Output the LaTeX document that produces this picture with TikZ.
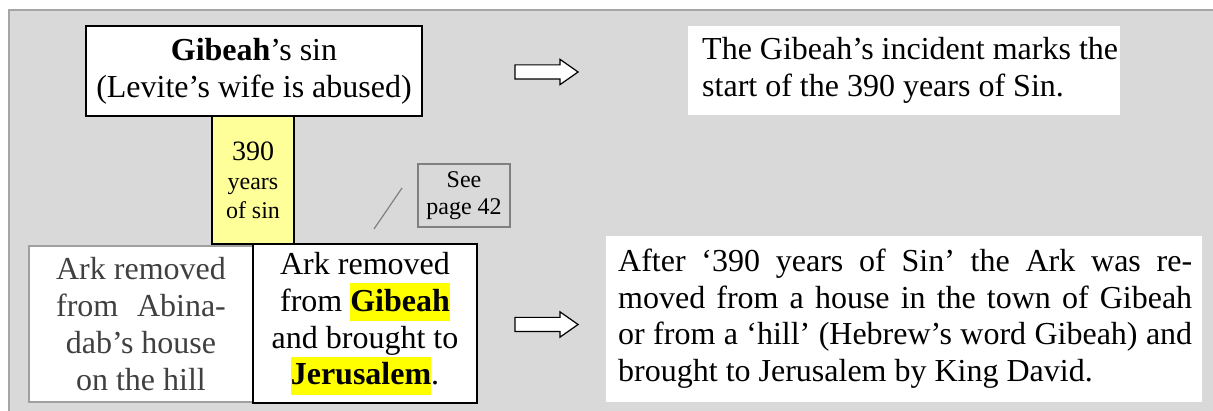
\documentclass[tikz,border=0pt]{standalone}
\usepackage{fontspec}
\setmainfont{Liberation Serif}
\usetikzlibrary{shapes.arrows}
\definecolor{bggray}{HTML}{D9D9D9}
\definecolor{bgline}{HTML}{A6A6A6}
\definecolor{softyellow}{HTML}{FFFF99}
\definecolor{hlyellow}{HTML}{FFFF00}
\definecolor{greytext}{HTML}{404040}
\definecolor{greyline}{HTML}{A0A0A0}
\definecolor{seeline}{HTML}{808080}
\newsavebox\arkbox
\newcommand\hlword[1]{{\setlength{\fboxsep}{0pt}\colorbox{hlyellow}{\rule[-10pt]{0pt}{38pt}#1}}}
\begin{document}
\begin{tikzpicture}[x=1pt,y=-1pt,
  font=\fontsize{32}{36.8}\selectfont,
  box/.style={draw=black, line width=1.5pt, fill=white, inner sep=0pt, align=center},
  greybox/.style={draw=greyline, line width=1.5pt, fill=white, inner sep=0pt, align=center, text=greytext},
  textpanel/.style={fill=white, inner sep=0pt, anchor=north west},
  blockarrow/.style={single arrow, draw=black, fill=white, line width=1.2pt,
    minimum height=63pt, single arrow head extend=5.5pt, single arrow tip angle=70,
    inner xsep=0pt, inner ysep=6.5pt}
]
\useasboundingbox (0,0) rectangle (1213,411);
\fill[white] (0,0) rectangle (1213,411);
\fill[bggray] (9,10) rectangle (1220,420);
\draw[bgline, line width=1.5pt] (9,420) -- (9,10) -- (1220,10);

% yellow connector box
\node[box, fill=softyellow, minimum width=82pt, minimum height=128pt,
  font=\fontsize{24}{29}\selectfont] (years) at (253,180)
  {{\fontsize{28}{29}\selectfont 390}\\years\\of sin};

% top box
\node[box, minimum width=336pt, minimum height=90pt] (sin) at (254,71)
  {\textbf{Gibeah}’s sin\\(Levite’s wife is abused)};

% see page box
\node[draw=seeline, line width=1.2pt, inner sep=0pt, align=center,
  minimum width=92pt, minimum height=63pt, font=\fontsize{24}{27}\selectfont]
  (see) at (464,195.5) {See\\page 42};
\coordinate (lineA) at (374,229);
\coordinate (lineB) at (402,188);
\draw[seeline, line width=1.2pt] (lineA) -- (lineB);

% bottom left boxes
\node[greybox, minimum width=224pt, minimum height=156pt] (abinadab) at (141,324)
  {Ark removed\\\sbox\arkbox{Ark removed}\makebox[\wd\arkbox][s]{from Abina-}\\dab’s house\\on the hill};
\node[box, minimum width=224pt, minimum height=159pt] (jerusalem) at (365,323.5)
  {Ark removed\\from \hlword{\textbf{Gibeah}}\\and brought to\\\hlword{\textbf{Jerusalem}}.};

% block arrows
\node[blockarrow] (arrowtop) at (541.5,72) {};
\node[blockarrow] (arrowbottom) at (541.5,324.5) {};

% text panels
\node[textpanel, minimum height=89pt] (incident) at (688,26)
  {\begin{tabular}{@{\hspace{14pt}}l@{\hspace{2pt}}}The Gibeah’s incident marks the\\start of the 390 years of Sin.\end{tabular}};
\node[textpanel, minimum height=166pt] (david) at (606,236)
  {\begin{tabular}{@{\hspace{12pt}}l@{\hspace{10pt}}}%
  \makebox[574pt][s]{After ‘390 years of Sin’ the Ark was re-}\\
  \makebox[574pt][s]{moved from a house in the town of Gibeah}\\
  \makebox[574pt][s]{or from a ‘hill’ (Hebrew’s word Gibeah) and}\\
  brought to Jerusalem by King David.\end{tabular}};
\end{tikzpicture}
\end{document}
